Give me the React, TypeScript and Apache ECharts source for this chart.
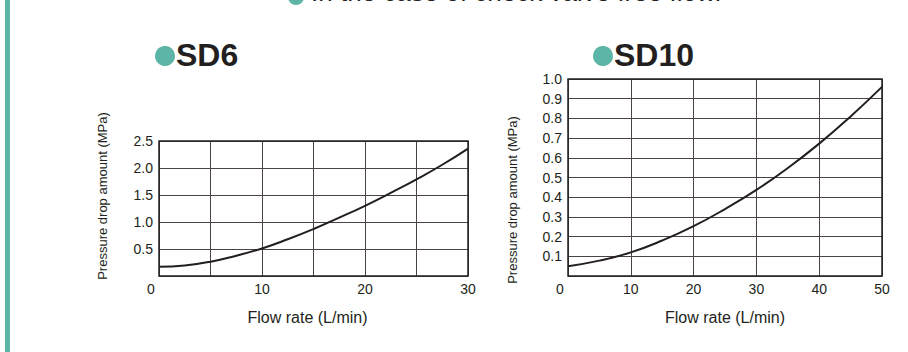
import React, { useEffect, useRef } from "react";
import * as echarts from "echarts";

const sd6Flow = [0, 2.5, 5, 7.5, 10, 12.5, 15, 17.5, 20, 22.5, 25, 27.5, 30];
const sd6Pressure = [0.17, 0.195, 0.265, 0.375, 0.51, 0.68, 0.87, 1.08, 1.3, 1.54, 1.79, 2.06, 2.36];

const sd10Flow = [0, 5, 10, 15, 20, 25, 30, 35, 40, 45, 50];
const sd10Pressure = [0.05, 0.078, 0.12, 0.18, 0.253, 0.34, 0.437, 0.548, 0.672, 0.81, 0.96];

const sd6Title = "SD6";
const sd10Title = "SD10";
const topNote = "In the case of check valve free flow.";
const xName = "Flow rate (L/min)";
const yName = "Pressure drop amount (MPa)";

const TEAL = "#5db5a8";
const INK = "#231f20";
const GRID_LINE = "#4a4444";
const FONT = "Arial, 'Liberation Sans', Helvetica, sans-serif";

export default function App() {
  const ref = useRef<HTMLDivElement>(null);
  useEffect(() => {
    if (!ref.current) return;
    const chart = echarts.init(ref.current, null, { renderer: "svg" });

    const xLabel = (step: number) => ({
      show: true,
      margin: 6,
      fontSize: 14,
      color: INK,
      fontFamily: FONT,
      formatter: (v: number) =>
        v === 0 ? "{z|0}" : v % step === 0 ? String(v) : "",
      rich: { z: { fontSize: 14, color: INK, fontFamily: FONT, padding: [0, 16, 0, 0] } },
    });
    const yLabel = (digits: number) => ({
      show: true,
      margin: 6,
      fontSize: 14,
      color: INK,
      fontFamily: FONT,
      showMinLabel: false,
      formatter: (v: number) => v.toFixed(digits),
    });
    const split = { show: true, lineStyle: { color: GRID_LINE, width: 1 } };
    const axisLine = { show: false };

    chart.setOption({
      animation: false,
      backgroundColor: "#ffffff",
      grid: [
        { left: 159, top: 141, width: 309, height: 135, show: true, borderColor: INK, borderWidth: 1.5, backgroundColor: "transparent", z: 3 },
        { left: 568, top: 79, width: 314, height: 197, show: true, borderColor: INK, borderWidth: 1.5, backgroundColor: "transparent", z: 3 },
      ],
      xAxis: [
        {
          type: "value", gridIndex: 0, min: 0, max: 30, interval: 5,
          axisLine, axisTick: { show: false }, splitLine: split,
          axisLabel: xLabel(10),
          name: xName, nameLocation: "middle", nameGap: 33,
          nameTextStyle: { fontSize: 16, color: INK, fontFamily: FONT, padding: [0, 12, 0, 0] },
        },
        {
          type: "value", gridIndex: 1, min: 0, max: 50, interval: 10,
          axisLine, axisTick: { show: false }, splitLine: split,
          axisLabel: xLabel(10),
          name: xName, nameLocation: "middle", nameGap: 33,
          nameTextStyle: { fontSize: 16, color: INK, fontFamily: FONT },
        },
      ],
      yAxis: [
        {
          type: "value", gridIndex: 0, min: 0, max: 2.5, interval: 0.5,
          axisLine, axisTick: { show: false }, splitLine: split,
          axisLabel: yLabel(1),
          name: yName, nameLocation: "middle", nameGap: 50,
          nameTextStyle: { fontSize: 13, color: INK, fontFamily: FONT, padding: [0, 0, 0, 25] },
        },
        {
          type: "value", gridIndex: 1, min: 0, max: 1.0, interval: 0.1,
          axisLine, axisTick: { show: false }, splitLine: split,
          axisLabel: yLabel(1),
          name: yName, nameLocation: "middle", nameGap: 49,
          nameTextStyle: { fontSize: 13, color: INK, fontFamily: FONT, padding: [0, 45, 0, 0] },
        },
      ],
      series: [
        {
          type: "line", xAxisIndex: 0, yAxisIndex: 0, smooth: true, symbol: "none",
          lineStyle: { color: INK, width: 2 },
          data: sd6Flow.map((x, i) => [x, sd6Pressure[i]]),
          z: 5,
        },
        {
          type: "line", xAxisIndex: 1, yAxisIndex: 1, smooth: true, symbol: "none",
          lineStyle: { color: INK, width: 2 },
          data: sd10Flow.map((x, i) => [x, sd10Pressure[i]]),
          z: 5,
        },
      ],
      graphic: [
        { type: "rect", left: 5, top: 0, shape: { width: 5, height: 352 }, style: { fill: TEAL } },
        { type: "circle", shape: { cx: 296, cy: -3, r: 8 }, style: { fill: TEAL } },
        {
          type: "text", x: 311, y: 5,
          style: { text: topNote, fontSize: 26, fontFamily: FONT, fill: INK, textVerticalAlign: "bottom" },
        },
        { type: "circle", shape: { cx: 165, cy: 56, r: 10 }, style: { fill: TEAL } },
        {
          type: "text", x: 176, y: 55,
          style: { text: sd6Title, fontSize: 32, fontWeight: "bold", fontFamily: FONT, fill: INK, textVerticalAlign: "middle" },
        },
        { type: "circle", shape: { cx: 603, cy: 56, r: 10 }, style: { fill: TEAL } },
        {
          type: "text", x: 614, y: 55,
          style: { text: sd10Title, fontSize: 32, fontWeight: "bold", fontFamily: FONT, fill: INK, textVerticalAlign: "middle" },
        },
      ],
    });
    return () => chart.dispose();
  }, []);
  return <div ref={ref} style={{ width: 908, height: 352, position: "absolute", left: 0, top: 0 }} />;
}
